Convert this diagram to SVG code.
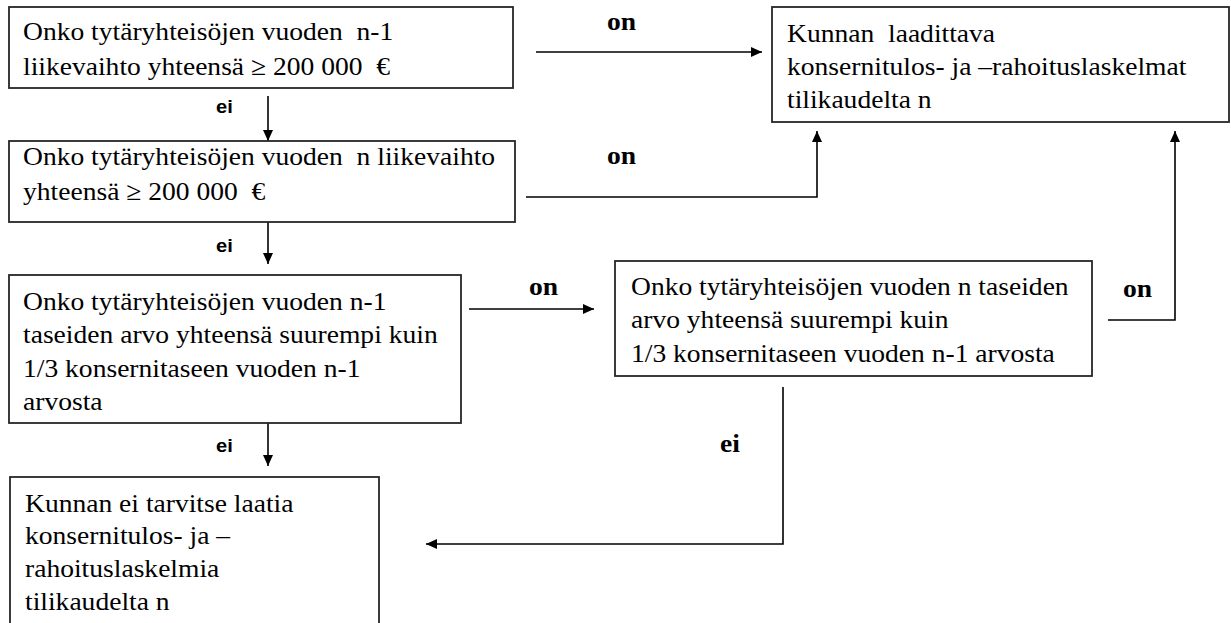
<svg xmlns="http://www.w3.org/2000/svg" width="1231" height="623" viewBox="0 0 1231 623">
<defs>
<style>
.box{fill:#fff;stroke:#262626;stroke-width:1.8}
.t{font-family:"Liberation Serif","Times New Roman",serif;font-size:26px;fill:#000;white-space:pre}
.on{font-family:"Liberation Serif","Times New Roman",serif;font-size:26px;font-weight:bold;fill:#000}
.ei{font-family:"Liberation Sans",Arial,sans-serif;font-size:19px;font-weight:bold;fill:#000}
.c{fill:none;stroke:#000;stroke-width:1.6;marker-end:url(#ah)}
</style>
<marker id="ah" markerUnits="userSpaceOnUse" markerWidth="11" markerHeight="10" refX="11" refY="5" orient="auto">
<path d="M0,0 L11,5 L0,10 z" fill="#000"/>
</marker>
</defs>
<rect width="1231" height="623" fill="#fff"/>

<g id="connectors">
<path class="c" d="M536,52 H762"/>
<path class="c" d="M526,197 H817 V131"/>
<path class="c" d="M268,96 V141"/>
<path class="c" d="M268,219 V264"/>
<path class="c" d="M469,309 H594"/>
<path class="c" d="M1108,320 H1175 V131"/>
<path class="c" d="M268,409 V466"/>
<path class="c" d="M783,387 V544 H426"/>
<text class="on" transform="translate(607 30) scale(1.06 1)">on</text>
<text class="on" transform="translate(607 164) scale(1.06 1)">on</text>
<text class="on" transform="translate(529 295) scale(1.06 1)">on</text>
<text class="on" transform="translate(1123 297) scale(1.06 1)">on</text>
<text class="on" transform="translate(720 452) scale(1.06 1)">ei</text>
<text class="ei" transform="translate(216 113) scale(1.06 1)">ei</text>
<text class="ei" transform="translate(216 252) scale(1.06 1)">ei</text>
<text class="ei" transform="translate(216 452) scale(1.06 1)">ei</text>
</g>

<g id="node1">
<rect class="box" x="9" y="7" width="504" height="81"/>
<text class="t" transform="translate(23 40) scale(1.06 1)">Onko tytäryhteisöjen vuoden  n-1</text>
<text class="t" transform="translate(23 75) scale(1.06 1)">liikevaihto yhteensä ≥ 200 000  €</text>
</g>

<g id="node2">
<rect class="box" x="9" y="141" width="506" height="81"/>
<text class="t" transform="translate(23 165) scale(1.06 1)">Onko tytäryhteisöjen vuoden  n liikevaihto</text>
<text class="t" transform="translate(23 200) scale(1.06 1)">yhteensä ≥ 200 000  €</text>
</g>

<g id="node3">
<rect class="box" x="9" y="275" width="452" height="148"/>
<text class="t" transform="translate(23 310) scale(1.06 1)">Onko tytäryhteisöjen vuoden n-1</text>
<text class="t" transform="translate(23 343) scale(1.06 1)">taseiden arvo yhteensä suurempi kuin</text>
<text class="t" transform="translate(23 377) scale(1.06 1)">1/3 konsernitaseen vuoden n-1</text>
<text class="t" transform="translate(23 410) scale(1.06 1)">arvosta</text>
</g>

<g id="node4">
<rect class="box" x="615" y="261" width="477" height="115"/>
<text class="t" transform="translate(631 295) scale(1.06 1)">Onko tytäryhteisöjen vuoden n taseiden</text>
<text class="t" transform="translate(631 328) scale(1.06 1)">arvo yhteensä suurempi kuin</text>
<text class="t" transform="translate(631 362) scale(1.06 1)">1/3 konsernitaseen vuoden n-1 arvosta</text>
</g>

<g id="node5">
<rect class="box" x="10" y="477" width="369" height="170"/>
<text class="t" transform="translate(25 512) scale(1.06 1)">Kunnan ei tarvitse laatia</text>
<text class="t" transform="translate(25 544) scale(1.06 1)">konsernitulos- ja –</text>
<text class="t" transform="translate(25 577) scale(1.06 1)">rahoituslaskelmia</text>
<text class="t" transform="translate(25 610) scale(1.06 1)">tilikaudelta n</text>
</g>

<g id="node6">
<rect class="box" x="772" y="7" width="457" height="115"/>
<text class="t" transform="translate(787 42) scale(1.06 1)">Kunnan  laadittava</text>
<text class="t" transform="translate(787 75) scale(1.06 1)">konsernitulos- ja –rahoituslaskelmat</text>
<text class="t" transform="translate(787 108) scale(1.06 1)">tilikaudelta n</text>
</g>
</svg>
